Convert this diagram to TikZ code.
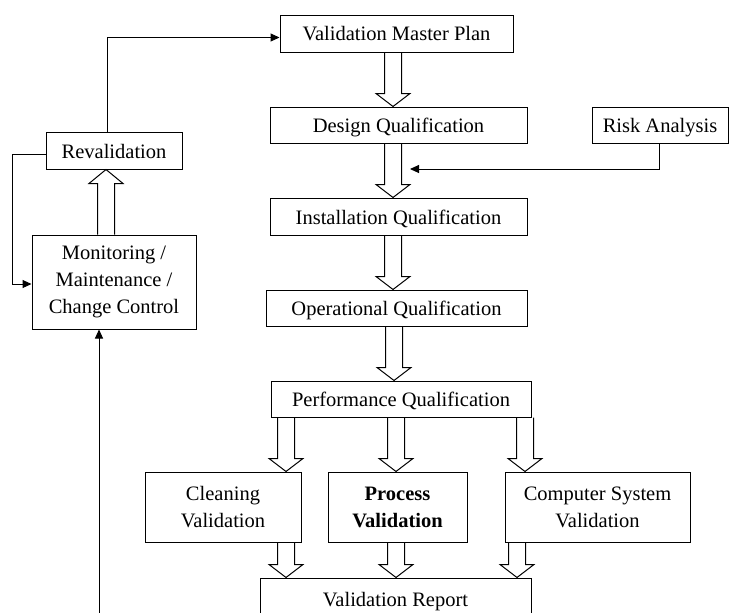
\documentclass[tikz,border=0pt]{standalone}
\usepackage{fontspec}
\setmainfont{Liberation Serif}
\usetikzlibrary{calc,arrows.meta}
\newcommand\fatdown[3]{\draw[fat] let \p1=(#2.south), \p2=(#3.north) in
  (#1pt-8.5pt,\y1) -- (#1pt-8.5pt,\y2+13pt) -- (#1pt-17pt,\y2+13pt) -- (#1pt,\y2)
  -- (#1pt+17pt,\y2+13pt) -- (#1pt+8.5pt,\y2+13pt) -- (#1pt+8.5pt,\y1);}
\newcommand\fatup[3]{\draw[fat] let \p1=(#2.north), \p2=(#3.south) in
  (#1pt-8.5pt,\y1) -- (#1pt-8.5pt,\y2-14pt) -- (#1pt-17pt,\y2-14pt) -- (#1pt,\y2)
  -- (#1pt+17pt,\y2-14pt) -- (#1pt+8.5pt,\y2-14pt) -- (#1pt+8.5pt,\y1);}
\begin{document}
\begin{tikzpicture}[x=1pt,y=-1pt,
  box/.style={draw=black,line width=1pt,inner sep=0pt,align=center,
    font=\fontsize{20.5}{27}\selectfont,text=black},
  onebox/.style={box,text height=15pt,text depth=0pt},
  fat/.style={draw=black,line width=1pt,line join=miter},
  conn/.style={draw=black,line width=1pt,-{Triangle[length=9pt,width=8pt]}}]
\useasboundingbox (0,0) rectangle (729,613);
\clip (0,0) rectangle (729,613);
\fill[white] (0,0) rectangle (729,613);
% nodes
\node[onebox,minimum width=233pt,minimum height=37pt] (vmp) at (396.5,33.5) {Validation Master Plan};
\node[onebox,minimum width=257pt,minimum height=36pt] (dq) at (398.5,125) {Design Qualification};
\node[onebox,minimum width=136pt,minimum height=36pt] (ra) at (660,125) {Risk Analysis};
\node[onebox,minimum width=257pt,minimum height=37pt] (iq) at (398.5,216.5) {Installation Qualification};
\node[onebox,minimum width=261pt,minimum height=36pt] (oq) at (396.5,308) {Operational Qualification};
\node[onebox,minimum width=260pt,minimum height=36pt] (pq) at (401,399) {Performance Qualification};
\node[box,minimum width=156pt,minimum height=70pt] (cv) at (223,507) {Cleaning\\Validation};
\node[box,minimum width=139pt,minimum height=70pt] (pv) at (397.5,507) {\bfseries Process\\\bfseries Validation};
\node[box,minimum width=185pt,minimum height=70pt] (csv) at (597.5,507) {Computer System\\Validation};
\node[onebox,minimum width=271pt,minimum height=42pt] (vr) at (395.5,599) {Validation Report};
\node[onebox,minimum width=136pt,minimum height=37pt] (rev) at (114,150.5) {Revalidation};
\node[box,minimum width=164pt,minimum height=94pt] (mon) at (114,282) {\raisebox{-3pt}{\parbox{150pt}{\centering Monitoring /\\Maintenance /\\Change Control}}};
% fat arrows
\fatdown{393}{vmp}{dq}
\fatdown{393}{dq}{iq}
\fatdown{393}{iq}{oq}
\fatdown{394}{oq}{pq}
\fatdown{286}{pq}{cv}
\fatdown{396}{pq}{pv}
\fatdown{525}{pq}{csv}
\fatdown{286}{cv}{vr}
\fatdown{396}{pv}{vr}
\fatdown{517}{csv}{vr}
\fatup{106}{mon}{rev}
% thin connectors
\coordinate (rin) at (410,169);
\draw[conn] (ra.south -| 659,0) |- (rin);
\draw[conn] ([xshift=-7pt]rev.north) |- ([yshift=-4pt]vmp.west);
\draw[conn] ([yshift=-3.5pt]rev.west) -- ++(-33,0) |- ([yshift=-2pt]mon.west);
\coordinate (bot) at (99,630);
\draw[conn] (bot) -- (bot |- mon.south);
\end{tikzpicture}
\end{document}
